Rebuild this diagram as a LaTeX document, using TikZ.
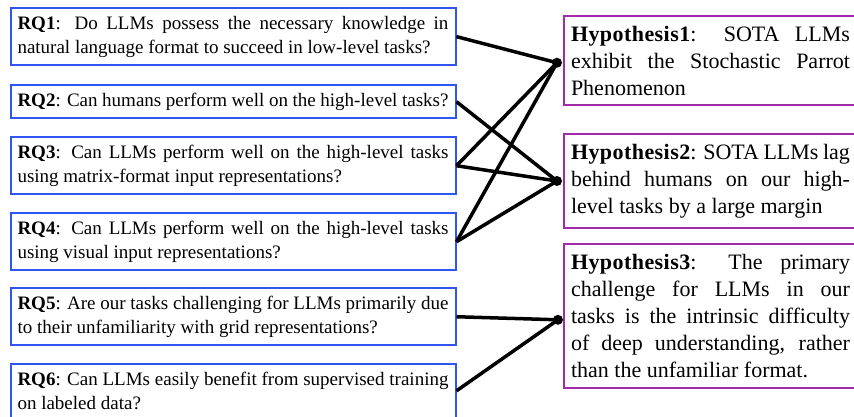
\documentclass[tikz,border=0pt]{standalone}
\usepackage{fontspec}
\setmainfont{Liberation Serif}
\newfontface\hypbold{Liberation Serif Bold}[LetterSpace=2]
\usepackage{xcolor}
\usepackage{tikz}
\usetikzlibrary{calc}
\definecolor{rqblue}{HTML}{2F55F2}
\definecolor{hyppurple}{HTML}{A12BA8}
\definecolor{ink}{HTML}{000000}
\newcommand\rqfont{\fontsize{19}{24}\selectfont}
\newcommand\hypfont{\fontsize{22}{27}\selectfont}
\newcommand\hyptag[1]{{\hypbold #1}}
\tikzset{
  rq/.style={draw=rqblue, line width=2pt, anchor=north west, text width=431pt, align=justify, inner xsep=7pt, inner ysep=8pt, font=\rqfont},
  hyp/.style={draw=hyppurple, line width=2pt, anchor=north west, text width=279pt, align=justify, inner xsep=7pt, inner ysep=10pt, font=\hypfont},
  dot/.style={circle, fill=ink, inner sep=0pt, minimum size=10pt},
  link/.style={draw=ink, line width=3.5pt},
}
\hyphenpenalty=10000

\begin{document}
\begin{tikzpicture}[x=1pt, y=-1pt]
  \clip (0,0) rectangle (854,417);
  % research questions
  \node[rq] (rq1) at (9.5,7) {\textbf{RQ1}: Do LLMs possess the necessary knowledge in natural language format to succeed in low-level tasks?};
  \node[rq] (rq2) at (9.5,84) {\textbf{RQ2}: Can humans perform well on the high-level tasks?};
  \node[rq] (rq3) at (9.5,136) {\textbf{RQ3}: Can LLMs perform well on the high-level tasks using matrix-format input representations?};
  \node[rq] (rq4) at (9.5,212) {\textbf{RQ4}: Can LLMs perform well on the high-level tasks using visual input representations?};
  \node[rq] (rq5) at (9.5,287) {\textbf{RQ5}: Are our tasks challenging for LLMs primarily due to their unfamiliarity with grid representations?};
  \node[rq] (rq6) at (9.5,363) {\textbf{RQ6}: Can LLMs easily benefit from supervised training on labeled data?};
  % hypotheses
  \node[hyp] (h1) at (563,15) {\hyptag{Hypothesis1}: SOTA LLMs\linebreak exhibit the Stochastic Parrot\linebreak Phenomenon};
  \node[hyp] (h2) at (563,133) {\hyptag{Hypothesis2}: SOTA LLMs lag\linebreak behind humans on our high-\linebreak level tasks by a large margin};
  \node[hyp] (h3) at (563,243) {\hyptag{Hypothesis3}: The primary\linebreak challenge for LLMs in our\linebreak tasks is the intrinsic difficulty\linebreak of deep understanding, rather\linebreak than the unfamiliar format.};
  \node[dot] (d1) at ($(h1.west)+(-6,2)$) {};
  \node[dot] (d2) at ($(h2.west)+(-6,0)$) {};
  \node[dot] (d3) at ($(h3.west)+(-5,4)$) {};
  % links
  \draw[link] (rq1.east) -- (d1.center);
  \draw[link] (rq3.east) -- (d1.center);
  \draw[link] (rq4.east) -- (d1.center);
  \draw[link] (rq2.east) -- (d2.center);
  \draw[link] (rq3.east) -- (d2.center);
  \draw[link] (rq4.east) -- (d2.center);
  \draw[link] (rq5.east) -- (d3.center);
  \draw[link] (rq6.east) -- (d3.center);
\end{tikzpicture}
\end{document}
